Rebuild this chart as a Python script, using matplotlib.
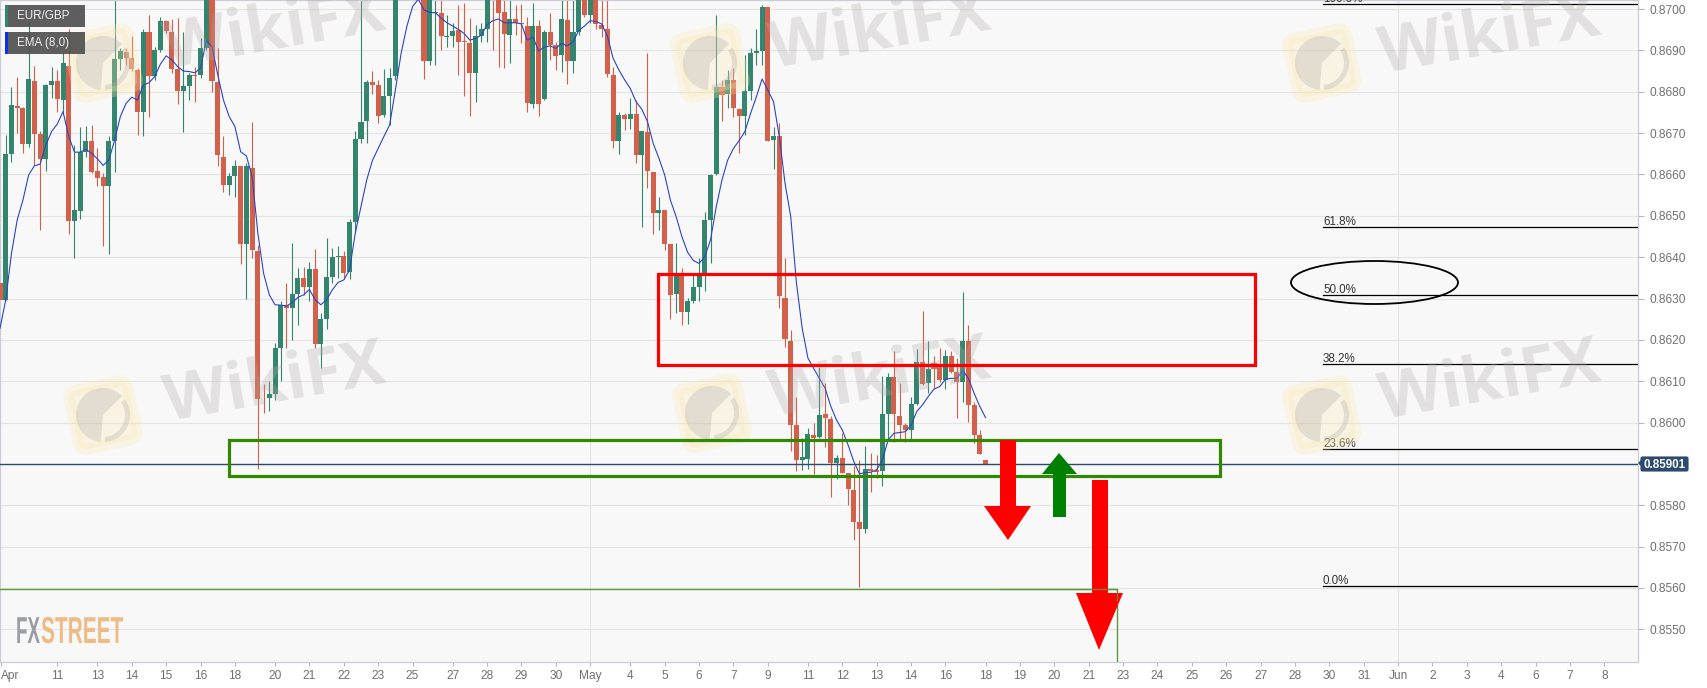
import matplotlib
matplotlib.use('Agg')
import matplotlib.pyplot as plt
from matplotlib.patches import Rectangle, Polygon, Ellipse, FancyBboxPatch, Wedge
from matplotlib.patheffects import AbstractPathEffect
from matplotlib.transforms import Affine2D
import numpy as np

plt.rcParams['font.family'] = ['Liberation Sans', 'DejaVu Sans']

# prices, in 1/100000
opens = [86337,86297,86650,86766,86762,86674,86825,86698,86638,86816,
         86825,86780,86863,86488,86512,86655,86681,86609,86593,86571,
         86682,86879,86897,86881,86853,86750,86944,86837,86901,86972,
         86944,86854,86803,86814,86841,86841,86907,87046,86823,86642,
         86575,86597,86621,86431,86615,86416,86057,86060,86069,86180,
         86285,86276,86311,86349,86329,86372,86190,86250,86353,86400,
         86404,86363,86484,86686,86729,86824,86816,86744,86790,86837,
         87046,87100,87070,87110,87046,86875,86990,86990,86933,86936,
         86949,86923,86919,86845,86936,86952,87038,87038,86994,86937,
         86975,86966,86959,86771,86959,86783,86944,86912,86889,86974,
         86875,86944,87038,86986,87038,86962,86953,86841,86681,86744,
         86734,86746,86646,86702,86607,86506,86514,86432,86311,86361,
         86268,86293,86329,86355,86490,86601,86812,86794,86829,86758,
         86742,86803,86893,86899,87004,86684,86693,86302,86197,85994,
         85910,85912,85970,85964,86020,86008,85902,85914,85877,85837,
         85759,85743,85887,85886,85883,86021,86110,86017,85994,85981,
         86044,86146,86095,86143,86141,86103,86162,86123,86099,86198,
         86043,85970,85910]
highs = [86575,86696,86811,86835,86764,86970,86862,86704,86819,86861,
         86853,86897,86953,86671,86716,86717,86720,86663,86603,86692,
         87060,86905,86905,86936,86857,86951,86986,86909,86980,86974,
         86976,86978,86945,86845,86861,86929,87060,87060,86905,86692,
         86603,86635,86621,86627,86726,86430,86093,86101,86192,86293,
         86337,86434,86373,86377,86389,86419,86266,86446,86422,86428,
         86416,86492,86704,87060,86829,86850,86829,86854,86857,87060,
         87130,87120,87140,87130,87060,87060,87038,87022,86986,86966,
         87010,87014,86978,86962,86966,87050,87050,87050,87030,87030,
         87010,87012,86980,87014,86974,86949,86990,86921,87030,87030,
         87030,87050,87050,87050,87050,87030,87030,86861,86752,86748,
         86784,86780,86704,86893,86607,86545,86514,86432,86434,86373,
         86301,86357,86397,86510,86601,86986,86829,86853,86857,86760,
         86889,86905,86953,87010,87004,86716,86724,86397,86224,86063,
         85962,85986,85998,86135,86095,86015,85922,85974,85877,85894,
         85910,85944,85926,85922,86113,86121,86172,86095,85998,86063,
         86178,86271,86198,86161,86181,86176,86172,86155,86317,86236,
         86051,85982,85910]
lows = [86297,86297,86631,86700,86653,86667,86623,86466,86609,86784,
        86752,86752,86455,86397,86492,86643,86603,86572,86428,86407,
        86607,86853,86865,86851,86696,86693,86738,86829,86897,86941,
        86845,86770,86702,86780,86775,86833,86901,86800,86621,86557,
        86550,86545,86383,86299,86397,85887,86023,86027,86055,86101,
        86180,86200,86235,86309,86293,86181,86131,86226,86337,86349,
        86347,86347,86458,86675,86677,86794,86724,86740,86720,86829,
        87040,87060,87060,87060,86831,86865,86865,86901,86909,86909,
        86841,86790,86742,86775,86921,86921,86901,86861,86857,86869,
        86937,86917,86750,86760,86742,86780,86877,86853,86849,86818,
        86845,86937,86982,86966,86952,86932,86835,86663,86649,86708,
        86709,86629,86472,86568,86456,86466,86417,86251,86264,86236,
        86238,86289,86293,86319,86385,86599,86730,86760,86740,86653,
        86696,86780,86865,86865,86681,86613,86276,86184,85931,85883,
        85886,85888,85875,85962,85942,85819,85863,85877,85801,85716,
        85603,85732,85833,85865,85847,85958,85954,85958,85954,85958,
        86043,86091,86071,86083,86099,86081,86119,86010,86051,86002,
        85950,85924,85900]
closes = [86297,86650,86768,86762,86674,86830,86698,86637,86816,86825,
          86783,86869,86488,86513,86655,86681,86607,86592,86571,86682,
          86879,86899,86881,86854,86750,86944,86837,86901,86972,86947,
          86854,86803,86814,86841,86838,86907,87046,86826,86647,86575,
          86596,86621,86431,86621,86417,86057,86056,86069,86180,86285,
          86276,86310,86349,86329,86372,86190,86250,86351,86401,86403,
          86361,86484,86685,86728,86824,86817,86742,86790,86834,87046,
          87100,87070,87110,87080,86875,87046,86993,86936,86935,86948,
          86921,86920,86846,86936,86952,87038,87030,86991,86939,86975,
          86966,86964,86772,86958,86771,86944,86912,86887,86975,86875,
          86944,87038,86986,87038,86964,86953,86843,86681,86744,86734,
          86746,86646,86704,86609,86506,86513,86433,86309,86357,86268,
          86293,86329,86355,86490,86599,86812,86792,86829,86762,86742,
          86803,86893,86899,87004,86681,86692,86305,86202,85994,85910,
          85916,85973,85962,86019,86010,85902,85914,85879,85839,85759,
          85743,85888,85884,85881,86021,86110,86020,85993,85981,86044,
          86147,86093,86129,86129,86102,86162,86123,86099,86198,86043,
          85969,85924,85900]
ema = [86228,86297,86409,86490,86538,86599,86621,86625,86671,86704,
       86722,86752,86692,86654,86654,86661,86651,86638,86622,86635,
       86683,86740,86772,86787,86780,86816,86822,86837,86867,86887,
       86877,86861,86850,86849,86846,86857,86924,86909,86841,86780,
       86740,86716,86655,86645,86595,86458,86361,86309,86285,86284,
       86282,86290,86303,86309,86322,86297,86285,86297,86321,86339,
       86345,86369,86458,86522,86587,86634,86663,86692,86720,86804,
       86893,86958,87006,87024,86998,86992,86991,86978,86967,86959,
       86951,86941,86925,86929,86937,86962,86972,86976,86967,86967,
       86967,86964,86925,86932,86899,86908,86911,86905,86917,86911,
       86921,86948,86959,86972,86970,86964,86935,86881,86853,86829,
       86808,86776,86758,86728,86675,86639,86599,86538,86498,86450,
       86412,86392,86385,86401,86442,86522,86587,86635,86663,86682,
       86704,86748,86788,86831,86804,86776,86692,86579,86498,86337,
       86228,86156,86131,86107,86083,86039,86006,85982,85946,85906,
       85876,85879,85880,85886,85910,85958,85974,85976,85978,85994,
       86027,86043,86063,86081,86087,86105,86107,86107,86126,86107,
       86071,86039,86012]

y_ticks = [0.8550,0.8560,0.8570,0.8580,0.8590,0.8600,0.8610,0.8620,0.8630,0.8640,
           0.8650,0.8660,0.8670,0.8680,0.8690,0.8700]
y_tick_labels = ['0.8550','0.8560','0.8570','0.8580','','0.8600','0.8610','0.8620','0.8630',
                 '0.8640','0.8650','0.8660','0.8670','0.8680','0.8690','0.8700']
x_ticks = [0.2,10,17,23,29,35,41,48,54,60,66,72,79,85,91,97,103,110,116,122,128,134,141,147,
           153,159,165,172,178,184,190,196,202,208,214,220,226,232,238,244,250,256,262,268,274,280]
x_labels = ['Apr','11','13','14','15','16','18','20','21','22','23','25','27','28','29','30','May',
            '4','5','6','7','9','11','12','13','14','16','18','19','20','21','23','24','25','26','27',
            '28','30','31','Jun','2','3','4','6','7','8']
fib_levels = [0.87012,0.86472,0.86308,0.86142,0.85936,0.85605]
fib_labels = ['100.0%','61.8%','50.0%','38.2%','23.6%','0.0%']
last_price = 0.85901
low_line = 0.85597

assert len(opens) == len(highs) == len(lows) == len(closes) == len(ema) == 173
assert len(x_ticks) == len(x_labels)

o = np.array(opens) / 1e5
h = np.array(highs) / 1e5
l = np.array(lows) / 1e5
c = np.array(closes) / 1e5
x = np.arange(len(o))

W, H = 1708, 688
PX = 5.73  # pixels per candle
GREEN = '#34856e'
RED = '#d2604a'
GREY = '#707070'


# squeeze text sideways, the FXSTREET mark is a condensed face
class Squeeze(AbstractPathEffect):
    def __init__(self, x0, sx):
        super().__init__()
        self.x0 = x0
        self.sx = sx

    def draw_path(self, renderer, gc, tpath, affine, rgbFace=None):
        t = affine + Affine2D().translate(-self.x0, 0).scale(self.sx, 1).translate(self.x0, 0)
        renderer.draw_path(gc, tpath, t, rgbFace)


fig = plt.figure(figsize=(W / 100, H / 100), dpi=100, facecolor='white')
ax = fig.add_axes([0, 1 - 662 / H, 1638 / W, 662 / H], facecolor='#f8f8f8')
ax.set_xlim(0, 1638 / PX)
ax.set_ylim(0.85421, 0.87022)

ax.set_yticks(y_ticks)
ax.set_yticklabels(y_tick_labels)
ax.yaxis.tick_right()
ax.set_xticks(x_ticks)
ax.set_xticklabels(x_labels)
ax.get_xticklabels()[0].set_ha('left')
ax.tick_params(axis='y', length=4, width=0.8, color='#b8b8b8', labelcolor=GREY, labelsize=8.6, pad=4)
ax.tick_params(axis='x', length=3, width=0.8, color='#b8b8b8', labelcolor=GREY, labelsize=8.6, pad=3)
ax.grid(axis='y', color='#e4e4e4', lw=0.8, zorder=0)
for v in [103, 244]:
    ax.axvline(v, color='#e4e4e4', lw=0.8, zorder=0)
for side in ['top', 'right', 'bottom', 'left']:
    ax.spines[side].set_color('#ccccd8')
    ax.spines[side].set_linewidth(0.9)

# candles
cols = [GREEN if c[i] >= o[i] else RED for i in x]
ax.vlines(x, l, h, colors=cols, lw=0.8, zorder=2)
ax.bar(x, np.maximum(np.abs(c - o), 0.00002), bottom=np.minimum(o, c), width=0.88, color=cols, lw=0, zorder=3)
ax.plot(x, np.array(ema) / 1e5, color='#2a45c8', lw=0.8, zorder=4)

# lines on the price scale
ax.axhline(last_price, color='#2c4a70', lw=1, zorder=5)
ax.plot([0, 1117 / PX, 1117 / PX], [low_line, low_line, 0.85421], color='#5a9a3c', lw=1, zorder=5)
for lev, lab in zip(fib_levels, fib_labels):
    ax.plot([1323 / PX, 1638 / PX], [lev, lev], color='black', lw=0.9, zorder=5)
    ax.text(1323 / PX, lev + 0.00005, lab, fontsize=8.4, color='#333333', va='baseline', ha='left',
            clip_on=True, zorder=5)

# overlay in picture pixels, for the hand drawn shapes and the labels
ov = fig.add_axes([0, 0, 1, 1], facecolor='none')
ov.set_xlim(0, W)
ov.set_ylim(H, 0)
ov.axis('off')


def logo(cx, cy):
    rot = Affine2D().rotate_deg_around(cx, cy, -12) + ov.transData
    ov.add_patch(FancyBboxPatch((cx - 30, cy - 30), 60, 60, boxstyle='round,pad=0,rounding_size=8',
                                fc='#f8e8b0', ec='#f8e8b0', lw=8, alpha=0.28, transform=rot, zorder=6))
    ov.add_patch(Wedge((cx, cy), 27, 95, 315, width=27, fc='#b0a8a8', ec='none', alpha=0.3, zorder=7))
    ov.add_patch(Wedge((cx, cy), 27, 325, 85, width=5, fc='#b0a8a8', ec='none', alpha=0.3, zorder=7))


for tx, ty, lx, ly in [(275, 32, 103, 63), (880, 32, 710, 63), (1490, 37, 1322, 63),
                       (275, 385, 103, 415), (880, 380, 712, 413), (1490, 383, 1322, 415)]:
    logo(lx, ly)
    ov.text(tx, ty, 'WikiFX', fontsize=47, fontweight='bold', color='#b0a8a8', alpha=0.3,
            rotation=10, ha='center', va='center', family=['Open Sans', 'DejaVu Sans'], zorder=7,
            clip_on=True)

# zones
ov.add_patch(Rectangle((658, 274), 597, 91, fc='none', ec='#ff0000', lw=2.3, zorder=8))
ov.add_patch(Rectangle((229, 440), 991, 36, fc='none', ec='#2f8a00', lw=2.3, zorder=8))
ov.add_patch(Ellipse((1374.5, 282.5), 167, 43, fc='none', ec='black', lw=1.3, zorder=8))

# arrows
ov.add_patch(Polygon([(1000, 440), (1016, 440), (1016, 506), (1031, 506), (1008, 540), (984, 506), (1000, 506)],
                     fc='#ff0000', ec='none', zorder=8))
ov.add_patch(Polygon([(1053, 517), (1066, 517), (1066, 474), (1077, 474), (1059, 453), (1042, 474), (1053, 474)],
                     fc='#008000', ec='none', zorder=8))
ov.add_patch(Polygon([(1092, 480), (1108, 480), (1108, 593), (1123, 593), (1099, 650), (1076, 593), (1092, 593)],
                     fc='#ff0000', ec='none', zorder=8))
ov.plot([1000, 1117, 1117], [589, 589, 600], color='#5a9a3c', lw=1, alpha=0.8, zorder=9)

# legend boxes
for y0, col, txt in [(5, GREEN, 'EUR/GBP'), (32, '#0a32e6', 'EMA (8,0)')]:
    ov.add_patch(Rectangle((5, y0), 80, 22, fc='#4d4d4d', ec='none', alpha=0.9, zorder=9))
    ov.add_patch(Rectangle((5, y0), 3, 22, fc=col, ec='none', zorder=10))
    ov.text(17, y0 + 11, txt, color='#f0f0f0', fontsize=8.4, va='center', ha='left', zorder=10)

# last price tag
ov.add_patch(Polygon([(1638, 463), (1641, 460), (1641, 466)], fc='#2c4a70', ec='none', zorder=9))
ov.add_patch(FancyBboxPatch((1641, 457), 47, 14, boxstyle='round,pad=0,rounding_size=1.5',
                            fc='#2c4a70', ec='#2c4a70', lw=0.8, zorder=9))
ov.text(1664.5, 464.5, f'{last_price:.5f}', color='white', fontsize=8.4, fontweight='bold',
        ha='center', va='center', zorder=10)

# FXSTREET mark
ov.text(16, 643, 'FX', color='#9a9da3', fontsize=27, fontweight='bold',
        ha='left', va='baseline', zorder=9, path_effects=[Squeeze(16, 0.5)])
ov.text(41, 643, 'STREET', color='#efbb84', fontsize=27, fontweight='bold',
        ha='left', va='baseline', zorder=9, path_effects=[Squeeze(41, 0.557)])

fig.savefig('out.png', dpi=100)
